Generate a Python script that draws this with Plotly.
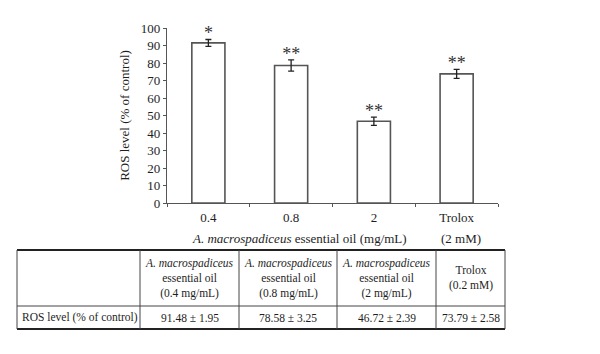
import plotly.graph_objects as go

# ---------------- data ----------------
categories = ["0.4", "0.8", "2", "Trolox"]
means = [91.48, 78.58, 46.72, 73.79]
sems = [1.95, 3.25, 2.39, 2.58]
stars = ["*", "**", "**", "**"]
y_ticks = [0, 10, 20, 30, 40, 50, 60, 70, 80, 90, 100]
doses = ["0.4 mg/mL", "0.8 mg/mL", "2 mg/mL"]
trolox_header = "Trolox<br>(0.2 mM)"
trolox_axis_note = "(2 mM)"
row_label = "ROS level (% of control)"
x_title = "<i>A. macrospadiceus</i> essential oil (mg/mL)"
y_title = "ROS level (% of control)"

# ---------------- style / layout ----------------
W, H = 600, 354
OFF = 8      # page body margin offset
FONT = "Liberation Serif"
TXT = "#1e1e1e"
GRAY = "#555555"
CF = 13      # chart font size
TF = 11.5    # table font size
STAR_GAP = 2.6  # gap above error bar (axis units)

# table geometry (page pixels)
col_edges = [17, 140, 239, 337, 436, 505]
row_edges = [250, 306, 329]

def px(xp):
    return (xp - OFF) / W

def py(yp):
    return 1 - (yp - OFF) / H

fig = go.Figure()
fig.add_trace(go.Bar(
    x=categories, y=means,
    width=0.4,
    marker=dict(color="white", line=dict(color=GRAY, width=1.6)),
    error_y=dict(type="data", array=sems, visible=True, color="#222222",
                 thickness=1.3, width=3),
    hoverinfo="skip",
))
fig.add_trace(go.Scatter(
    x=categories, y=[m + s + STAR_GAP for m, s in zip(means, sems)],
    mode="text", text=stars, textposition="middle center",
    textfont=dict(family=FONT, size=18, color="#333333"),
    cliponaxis=False,
    hoverinfo="skip",
))

# axis-title annotations
fig.add_annotation(x=1.1, y=py(238), xref="x", yref="paper", yanchor="middle",
                   text=x_title, showarrow=False,
                   font=dict(family=FONT, size=CF, color=TXT))
fig.add_annotation(x=3.05, y=py(238), xref="x", yref="paper", yanchor="middle",
                   text=trolox_axis_note, showarrow=False,
                   font=dict(family=FONT, size=CF, color=TXT))

# ---------------- table ----------------
header_vals = [""] + [f"<i>A. macrospadiceus</i><br>essential oil<br>({d})" for d in doses] + [trolox_header]
cell_vals = [row_label] + [f"{m:.2f} ± {s:.2f}" for m, s in zip(means, sems)]

shapes = []
for i, yv in enumerate(row_edges):
    outer = i in (0, len(row_edges) - 1)
    shapes.append(dict(type="line", xref="paper", yref="paper",
                       x0=px(col_edges[0]), x1=px(col_edges[-1]), y0=py(yv), y1=py(yv),
                       line=dict(color="#222222" if outer else "#444444", width=2 if outer else 1)))
for xv in col_edges:
    shapes.append(dict(type="line", xref="paper", yref="paper",
                       x0=px(xv), x1=px(xv), y0=py(row_edges[0]), y1=py(row_edges[-1]),
                       line=dict(color="#444444", width=1)))

for j in range(len(header_vals)):
    xc = (col_edges[j] + col_edges[j + 1]) / 2
    if header_vals[j]:
        fig.add_annotation(x=px(xc), y=py((row_edges[0] + row_edges[1]) / 2),
                           xref="paper", yref="paper", xanchor="center", yanchor="middle",
                           align="center", text=header_vals[j], showarrow=False,
                           font=dict(family=FONT, size=TF, color=TXT))
    if j == 0:
        fig.add_annotation(x=px(col_edges[0] + 3), y=py((row_edges[1] + row_edges[2]) / 2),
                           xref="paper", yref="paper", xanchor="left", yanchor="middle",
                           text=cell_vals[j], showarrow=False,
                           font=dict(family=FONT, size=TF, color=TXT))
    else:
        fig.add_annotation(x=px(xc), y=py((row_edges[1] + row_edges[2]) / 2),
                           xref="paper", yref="paper", xanchor="center", yanchor="middle",
                           text=cell_vals[j], showarrow=False,
                           font=dict(family=FONT, size=TF, color=TXT))

fig.update_layout(
    width=W, height=H,
    margin=dict(l=0, r=0, t=0, b=0),
    paper_bgcolor="white", plot_bgcolor="white",
    showlegend=False,
    bargap=0.6,
    shapes=shapes,
    font=dict(family=FONT, size=CF, color=TXT),
    xaxis=dict(domain=[px(167), px(498)], type="category", tickson="boundaries",
               ticks="outside", ticklen=3, tickcolor=GRAY, showline=True,
               linecolor=GRAY, linewidth=1.3, showgrid=False, automargin=False,
               range=[-0.5, 3.5], ticklabelstandoff=2,
               tickfont=dict(family=FONT, size=CF, color=TXT)),
    yaxis=dict(domain=[py(203), py(28)], anchor="x", range=[0, 100],
               tickvals=y_ticks, ticks="outside", ticklen=3, tickcolor=GRAY,
               showline=True, linecolor=GRAY, linewidth=1.3, showgrid=False,
               zeroline=False, automargin=False,
               title=dict(text=y_title, standoff=8,
                          font=dict(family=FONT, size=CF, color=TXT)),
               tickfont=dict(family=FONT, size=CF, color=TXT)),
)

fig.write_html("out.html")
